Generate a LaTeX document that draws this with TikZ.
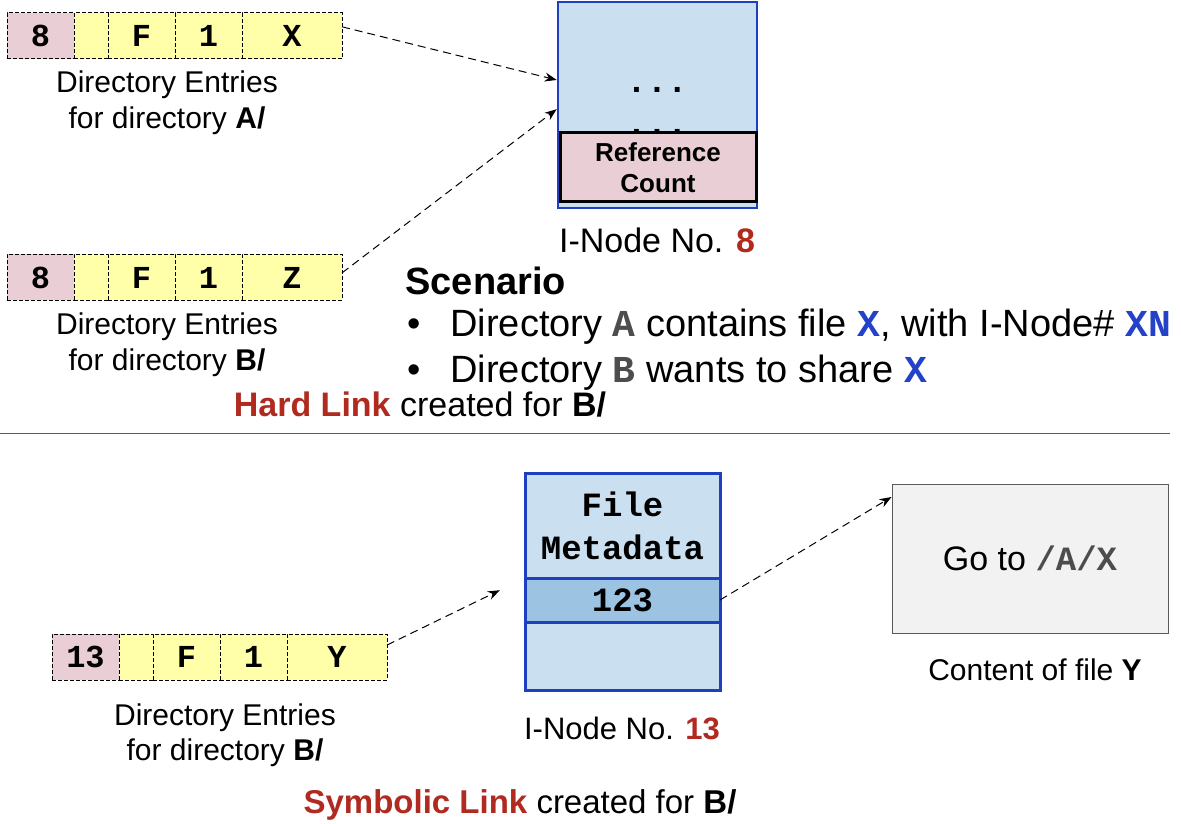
\documentclass[tikz,border=0pt]{standalone}
\usepackage{fontspec}
\setmainfont{Liberation Sans}
\setmonofont{Liberation Mono}
\usetikzlibrary{arrows.meta, positioning, calc}
\definecolor{entrypink}{HTML}{E9CFD5}
\definecolor{entryyellow}{HTML}{FFFFAA}
\definecolor{inodefill}{HTML}{CADFF0}
\definecolor{bandblue}{HTML}{9DC3E3}
\definecolor{inodeblue}{HTML}{1E3FBF}
\definecolor{linkred}{HTML}{B02A20}
\definecolor{monoblue}{HTML}{2342C8}
\definecolor{monogray}{HTML}{4D4D4D}
\definecolor{contentfill}{HTML}{F2F2F2}
\definecolor{contentedge}{HTML}{5A5A5A}
\newcommand{\monotxt}[2]{\textcolor{#1}{\ttfamily\bfseries #2}}

\begin{document}
\begin{tikzpicture}[
    x=0.5pt, y=-0.5pt,
    >={Stealth[length=6pt, width=4.5pt]},
    cell/.style={draw, line width=0.5pt, dash pattern=on 2pt off 1pt, fill=entryyellow, minimum height=23pt, inner sep=0pt, outer sep=0pt, font=\fontsize{16}{19}\selectfont\ttfamily\bfseries},
    numcell/.style={cell, fill=entrypink, minimum width=33.5pt},
    entrycap/.style={align=center, font=\fontsize{15}{18}\selectfont},
    inodecap/.style={font=\fontsize{17}{20}\selectfont},
    inode/.style={draw=inodeblue, line width=1.5pt, fill=inodefill, minimum width=97.5pt, inner sep=0pt, outer sep=0pt, align=center, font=\fontsize{17}{21.5}\selectfont\ttfamily\bfseries},
    textline/.style={anchor=base west, inner sep=0pt, font=\fontsize{19}{23}\selectfont},
    link/.style={->, line width=0.5pt, dash pattern=on 4pt off 2.5pt}
  ]
    \useasboundingbox (0,0) rectangle (1181,823);

    % Hard link: entries of A/ and B/
    \node[numcell, anchor=west] (a0) at (7,36) {8};
    \node[cell, minimum width=17pt, right=0pt of a0] (a1) {};
    \node[cell, minimum width=33.5pt, right=0pt of a1] (a2) {F};
    \node[cell, minimum width=33.5pt, right=0pt of a2] (a3) {1};
    \node[cell, minimum width=50pt, right=0pt of a3] (a4) {X};
    \node[entrycap] (acap) at (167,103) {Directory Entries\\for directory \textbf{A/}};

    \node[numcell, anchor=west] (b0) at (7,277.5) {8};
    \node[cell, minimum width=17pt, right=0pt of b0] (b1) {};
    \node[cell, minimum width=33.5pt, right=0pt of b1] (b2) {F};
    \node[cell, minimum width=33.5pt, right=0pt of b2] (b3) {1};
    \node[cell, minimum width=50pt, right=0pt of b3] (b4) {Z};
    \node[entrycap] (bcap) at (167,345) {Directory Entries\\for directory \textbf{B/}};

    % I-node 8
    \node[draw=inodeblue, line width=1.3pt, fill=inodefill, minimum width=99.5pt, minimum height=103pt] (inodeA) at (657.5,105) {};
    \node[anchor=base, font=\fontsize{17}{20}\selectfont\ttfamily\bfseries] (dotsA) at (657,93) {...};
    \node[anchor=base, font=\fontsize{17}{20}\selectfont\ttfamily\bfseries] (dotsB) at (657,135) {...};
    \node[draw, line width=1.5pt, fill=entrypink, minimum width=98pt, minimum height=34.5pt, align=center, inner sep=0pt, font=\fontsize{13}{15.5}\selectfont\bfseries] (refcnt) at (658,167.5) {Reference\\Count};
    \node[inodecap] (inodeAcap) at (657,240) {I-Node No. \textcolor{linkred}{\textbf{8}}};

    \draw[link] ($(a4.north east)!0.3!(a4.south east)$) -- ($(inodeA.north west)!0.38!(inodeA.south west)$);
    \draw[link] ($(b4.north east)!0.4!(b4.south east)$) -- ($(inodeA.north west)!0.52!(inodeA.south west)$);

    % Scenario
    \node[textline, font=\fontsize{19}{23}\selectfont\bfseries] (scen) at (405,294) {Scenario};
    \node[textline] (pt1) at (405,336) {\makebox[22.5pt][l]{\hspace{1pt}\textbullet}Directory \monotxt{monogray}{A} contains file \monotxt{monoblue}{X}, with I-Node\# \monotxt{monoblue}{XN}};
    \node[textline] (pt2) at (405,382) {\makebox[22.5pt][l]{\hspace{1pt}\textbullet}Directory \monotxt{monogray}{B} wants to share \monotxt{monoblue}{X}};
    \node[inodecap] (hard) at (420,405) {\textcolor{linkred}{\textbf{Hard Link}} created for \textbf{B/}};

    \draw[line width=0.5pt, contentedge] (0,433) -- (1170,433);

    % Symbolic link: entries of B/
    \node[numcell, anchor=west] (y0) at (52,657) {13};
    \node[cell, minimum width=17pt, right=0pt of y0] (y1) {};
    \node[cell, minimum width=33.5pt, right=0pt of y1] (y2) {F};
    \node[cell, minimum width=33.5pt, right=0pt of y2] (y3) {1};
    \node[cell, minimum width=50pt, right=0pt of y3] (y4) {Y};
    \node[entrycap, font=\fontsize{15}{17.5}\selectfont] (ycap) at (225,735) {Directory Entries\\for directory \textbf{B/}};

    % I-node 13
    \node[inode, minimum height=52.5pt] (meta) at (622.5,525.5) {File\\Metadata};
    \node[inode, fill=bandblue, minimum height=22pt, below=0pt of meta] (band) {123};
    \node[inode, minimum height=34pt, below=0pt of band] (lower) {};
    \node[inodecap, font=\fontsize{15.5}{19}\selectfont] (inodeBcap) at (622,728) {I-Node No. \textcolor{linkred}{\textbf{13}}};

    % content of Y
    \node[draw=contentedge, line width=0.5pt, fill=contentfill, minimum width=138pt, minimum height=74.5pt, font=\fontsize{17}{20}\selectfont] (content) at (1030,558.5) {Go to \monotxt{monogray}{/A/X}};
    \node[entrycap] (contentcap) at (1035,670) {Content of file \textbf{Y}};

    \draw[link, shorten >=14pt] ($(y4.north east)!0.24!(y4.south east)$) -- (meta.south west);
    \draw[link] (band.east) -- ($(content.north west)!0.09!(content.south west)$);

    \node[inodecap, font=\fontsize{16.5}{20}\selectfont] (symb) at (520,805) {\textcolor{linkred}{\textbf{Symbolic Link}} created for \textbf{B/}};
\end{tikzpicture}
\end{document}
